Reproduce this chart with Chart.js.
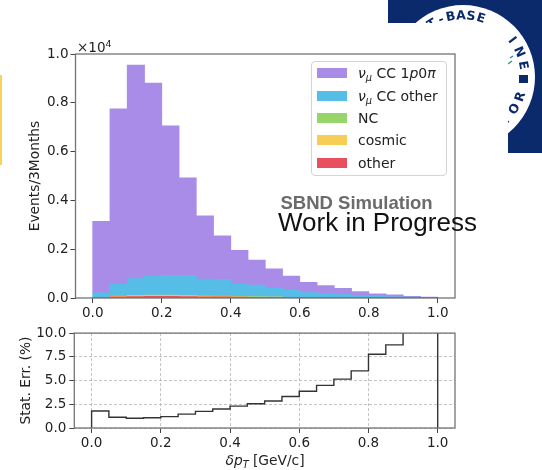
<!DOCTYPE html>
<html>
<head>
<meta charset="utf-8">
<script src="https://cdn.jsdelivr.net/npm/chart.js@4.4.1/dist/chart.umd.min.js"></script>
<style>
  html, body { margin: 0; padding: 0; background: #fff; }
  body { width: 542px; height: 470px; position: relative; overflow: hidden; font-family: "DejaVu Sans", sans-serif; color: #222; }
  #bg { position: absolute; left: 0; top: 0; z-index: 0; }
  #topWrap { position: absolute; left: 0; top: 30px; width: 542px; height: 290px; z-index: 1; }
  #botWrap { position: absolute; left: 0; top: 322px; width: 542px; height: 148px; z-index: 1; }
  .ovl { position: absolute; z-index: 2; white-space: nowrap; }
  #offset { left: 77px; top: 40px; font-size: 13.5px; line-height: 14px; }
  #offset sup { font-size: 9.5px; vertical-align: 5px; line-height: 0; }
  #legend { left: 311px; top: 61px; width: 136px; height: 115px; box-sizing: border-box;
            border: 1px solid #d4d4d4; border-radius: 4px; background: rgba(255,255,255,0.85); }
  .row { position: absolute; left: 0; height: 22px; display: flex; align-items: center; font-size: 14px; }
  .patch { width: 30px; height: 10px; margin-left: 5px; margin-right: 11px; }
  .row sub { font-size: 70%; vertical-align: -0.3em; line-height: 0; }
  #sbnd { left: 280.5px; top: 193.6px; font: bold 18.5px "Liberation Sans", Arial, sans-serif; line-height: 18.5px; color: #6b6b6b; }
  #wip { left: 278px; top: 208.7px; font: 26px "Liberation Sans", Arial, sans-serif; line-height: 26px; color: #111; }
  #xlabel { left: 0; width: 530px; text-align: center; top: 452px; font-size: 13.8px; line-height: 16px; }
  #xlabel sub { font-size: 70%; vertical-align: -0.3em; line-height: 0; }
</style>
</head>
<body>
<canvas id="bg" width="542" height="470"></canvas>
<div id="topWrap"><canvas id="topChart" width="542" height="290"></canvas></div>
<div id="botWrap"><canvas id="botChart" width="542" height="148"></canvas></div>
<div id="offset" class="ovl">×10<sup>4</sup></div>
<div id="legend" class="ovl"></div>
<div id="sbnd" class="ovl">SBND Simulation</div>
<div id="wip" class="ovl">Work in Progress</div>
<div id="xlabel" class="ovl"><i>δp</i><sub><i>T</i></sub> [GeV/c]</div>

<script>
// Histogram binning in δp_T (GeV/c)
const binEdges = [0.00, 0.05, 0.10, 0.15, 0.20, 0.25, 0.30, 0.35, 0.40, 0.45, 0.50,
                  0.55, 0.60, 0.65, 0.70, 0.75, 0.80, 0.85, 0.90, 0.95, 1.00];
const binCenters = [0.025, 0.075, 0.125, 0.175, 0.225, 0.275, 0.325, 0.375, 0.425, 0.475,
                    0.525, 0.575, 0.625, 0.675, 0.725, 0.775, 0.825, 0.875, 0.925, 0.975];

// Selected events per 3 months, by true interaction category
const ccSignal     = [2935, 7180, 8750, 7925, 6125, 4000, 2585, 1790, 1365, 1030,
                      785, 580, 420, 325, 265, 165, 95, 85, 35, 15];
const ccOther      = [190, 490, 685, 765, 805, 820, 690, 685, 525, 475,
                      365, 290, 200, 160, 120, 85, 65, 40, 30, 20];
const ncEvents     = [5, 15, 20, 25, 25, 20, 20, 15, 12, 10, 8, 6, 5, 4, 3, 2, 2, 1, 1, 1];
const cosmicEvents = [5, 20, 25, 30, 30, 25, 20, 20, 15, 12, 10, 8, 6, 5, 4, 3, 2, 2, 1, 1];
const otherEvents  = [5, 45, 60, 65, 65, 60, 45, 40, 30, 25, 20, 15, 10, 8, 6, 4, 3, 2, 1, 1];

// Relative statistical uncertainty per bin (%)
const statErr = [1.79, 1.13, 1.02, 1.08, 1.20, 1.46, 1.75, 2.00, 2.30, 2.55,
                 2.85, 3.32, 3.87, 4.49, 5.15, 6.02, 7.77, 8.76, 12.0, 15.8];

// Axis ticks
const xTickValues = [0.0, 0.2, 0.4, 0.6, 0.8, 1.0];
const xTickLabels = ['0.0', '0.2', '0.4', '0.6', '0.8', '1.0'];
const countTickValues = [0, 2000, 4000, 6000, 8000, 10000];
const countTickLabels = ['0.0', '0.2', '0.4', '0.6', '0.8', '1.0'];
const errTickValues = [0, 2.5, 5, 7.5, 10];
const errTickLabels = ['0.0', '2.5', '5.0', '7.5', '10.0'];

// Series names: plain text for datasets, markup for the legend
const seriesNames  = ['νμ CC 1p0π', 'νμ CC other', 'NC', 'cosmic', 'other'];
const legendNames  = ['<i>ν</i><sub><i>μ</i></sub>&nbsp;CC 1<i>p</i>0<i>π</i>',
                      '<i>ν</i><sub><i>μ</i></sub>&nbsp;CC other', 'NC', 'cosmic', 'other'];
const seriesValues = [ccSignal, ccOther, ncEvents, cosmicEvents, otherEvents];
const seriesColors = ['#a98be8', '#56bee6', '#97d46a', '#f6cd55', '#e9505d'];

const NAVY = '#0b2a6c';
const TEXT = '#222';
const tickFont = { family: 'DejaVu Sans', size: 13.5 };
const titleFont = { family: 'DejaVu Sans', size: 13.8 };

Chart.defaults.font.family = 'DejaVu Sans';

// ---- page backdrop: seal in the corner, accent strip at the left ----
(function drawBackdrop() {
  const ctx = document.getElementById('bg').getContext('2d');
  ctx.fillStyle = '#fff';
  ctx.fillRect(0, 0, 542, 470);
  ctx.fillStyle = NAVY;
  ctx.fillRect(388, 0, 154, 153);
  const cx = 463, cy = 77;
  ctx.fillStyle = '#fff';
  ctx.beginPath(); ctx.arc(cx, cy, 72, 0, Math.PI * 2); ctx.fill();

  ctx.fillStyle = NAVY;
  ctx.font = 'bold 12.5px "DejaVu Sans"';
  ctx.textAlign = 'center';
  ctx.textBaseline = 'middle';
  const r = 61;
  const upper = [['S', -160], ['H', -150], ['O', -140], ['R', -130], ['T', -120.5], ['-', -111],
                 ['B', -101.5], ['A', -92], ['S', -82.5], ['E', -73], ['L', -50], ['I', -37], ['N', -24], ['E', -11]];
  upper.forEach(([ch, deg]) => {
    const a = deg * Math.PI / 180;
    ctx.save();
    ctx.translate(cx + r * Math.cos(a), cy + r * Math.sin(a));
    ctx.rotate(a + Math.PI / 2);
    ctx.fillText(ch, 0, 0);
    ctx.restore();
  });
  const lower = [['D', 110], ['E', 97], ['T', 84], ['E', 71], ['C', 58], ['T', 45], ['O', 32], ['R', 19]];
  lower.forEach(([ch, deg]) => {
    const a = deg * Math.PI / 180;
    ctx.save();
    ctx.translate(cx + r * Math.cos(a), cy + r * Math.sin(a));
    ctx.rotate(a - Math.PI / 2);
    ctx.fillText(ch, 0, 0);
    ctx.restore();
  });
  ctx.fillRect(519, 75, 9, 8);
  ctx.strokeStyle = '#2aa55a'; ctx.lineWidth = 1.5;
  ctx.beginPath(); ctx.moveTo(508, 64); ctx.lineTo(512, 61); ctx.stroke();
  ctx.strokeStyle = '#2a8fd0';
  ctx.beginPath(); ctx.moveTo(510, 58); ctx.lineTo(513, 56); ctx.stroke();

  // white figure sheet over the seal
  ctx.fillStyle = '#fff';
  ctx.fillRect(0, 23, 508, 447);
  ctx.fillStyle = '#f7d35d';
  ctx.fillRect(0, 75, 2, 90);
})();

// ---- legend ----
(function buildLegend() {
  const box = document.getElementById('legend');
  legendNames.forEach((name, i) => {
    const row = document.createElement('div');
    row.className = 'row';
    row.style.top = (0.3 + i * 22.3) + 'px';
    row.innerHTML = '<span class="patch" style="background:' + seriesColors[i] + '"></span><span>' + name + '</span>';
    box.appendChild(row);
  });
})();

// frame around the plotting area (all four spines)
const framePlugin = {
  id: 'frame',
  afterDraw(chart) {
    const { ctx, chartArea: a } = chart;
    ctx.save();
    ctx.strokeStyle = '#747474';
    ctx.lineWidth = 1.3;
    ctx.strokeRect(a.left, a.top, a.right - a.left, a.bottom - a.top);
    ctx.restore();
  }
};

function fixedTicks(values) {
  return axis => { axis.ticks = values.map(v => ({ value: v })); };
}

// ---- stacked event-count histogram ----
const stackOrder = [4, 3, 2, 1, 0]; // bottom to top
new Chart(document.getElementById('topChart'), {
  type: 'bar',
  data: {
    datasets: stackOrder.map(k => ({
      label: seriesNames[k],
      data: binCenters.map((x, i) => ({ x: x, y: seriesValues[k][i] })),
      backgroundColor: seriesColors[k],
      borderWidth: 0,
      barPercentage: 1.0,
      categoryPercentage: 1.0,
      inflateAmount: 0.4
    }))
  },
  options: {
    responsive: false,
    animation: false,
    events: [],
    layout: { padding: { top: 24, right: 87, left: 0, bottom: 0 } },
    plugins: { legend: { display: false }, tooltip: { enabled: false } },
    scales: {
      x: {
        type: 'linear', min: -0.05, max: 1.05, stacked: true, offset: false,
        afterBuildTicks: fixedTicks(xTickValues),
        afterFit: axis => { axis.height = 22; },
        grid: { display: true, offset: false, drawOnChartArea: false, drawTicks: true, tickLength: 5, tickColor: '#444', tickWidth: 1 },
        border: { display: false },
        ticks: { font: tickFont, color: TEXT, padding: 2, maxRotation: 0, autoSkip: false,
                 callback: (v, i) => xTickLabels[i] }
      },
      y: {
        type: 'linear', min: 0, max: 10000, stacked: true,
        afterBuildTicks: fixedTicks(countTickValues),
        afterFit: axis => { axis.width = 75.5; },
        grid: { display: true, drawOnChartArea: false, drawTicks: true, tickLength: 5, tickColor: '#444', tickWidth: 1 },
        border: { display: false },
        ticks: { font: tickFont, color: TEXT, padding: 2, autoSkip: false,
                 callback: (v, i) => countTickLabels[i] },
        title: { display: true, text: 'Events/3Months', font: titleFont, color: TEXT, padding: { top: 27.2, bottom: 0 } }
      }
    }
  },
  plugins: [framePlugin]
});

// ---- statistical uncertainty as a step outline ----
const stepPoints = [{ x: binEdges[0], y: 0 }]
  .concat(statErr.map((e, i) => ({ x: binEdges[i], y: e })))
  .concat([{ x: binEdges[binEdges.length - 1], y: statErr[statErr.length - 1] },
           { x: binEdges[binEdges.length - 1], y: 0 }]);

new Chart(document.getElementById('botChart'), {
  type: 'line',
  data: {
    datasets: [{
      label: 'Stat. Err. (%)',
      data: stepPoints,
      stepped: true,
      borderColor: '#333',
      borderWidth: 1.4,
      pointRadius: 0,
      fill: false,
      clip: 0
    }]
  },
  options: {
    responsive: false,
    animation: false,
    events: [],
    layout: { padding: { top: 11, right: 87, left: 0, bottom: 0 } },
    plugins: { legend: { display: false }, tooltip: { enabled: false } },
    scales: {
      x: {
        type: 'linear', min: -0.05, max: 1.05,
        afterBuildTicks: fixedTicks(xTickValues),
        afterFit: axis => { axis.height = 42; },
        grid: { display: true, drawOnChartArea: true, color: '#b5b5b5', lineWidth: 0.8,
                drawTicks: true, tickLength: 5, tickColor: '#444', tickWidth: 1 },
        border: { display: false, dash: [3, 2] },
        ticks: { font: tickFont, color: TEXT, padding: 2, maxRotation: 0, autoSkip: false,
                 callback: (v, i) => xTickLabels[i] }
      },
      y: {
        type: 'linear', min: 0, max: 10,
        afterBuildTicks: fixedTicks(errTickValues),
        afterFit: axis => { axis.width = 74.3; },
        grid: { display: true, drawOnChartArea: true, color: '#b5b5b5', lineWidth: 0.8,
                drawTicks: true, tickLength: 5, tickColor: '#444', tickWidth: 1 },
        border: { display: false, dash: [3, 2] },
        ticks: { font: tickFont, color: TEXT, padding: 3, autoSkip: false,
                 callback: (v, i) => errTickLabels[i] },
        title: { display: true, text: 'Stat. Err. (%)', font: titleFont, color: TEXT, padding: { top: 17.8, bottom: 0 } }
      }
    }
  },
  plugins: [framePlugin]
});
</script>
</body>
</html>
